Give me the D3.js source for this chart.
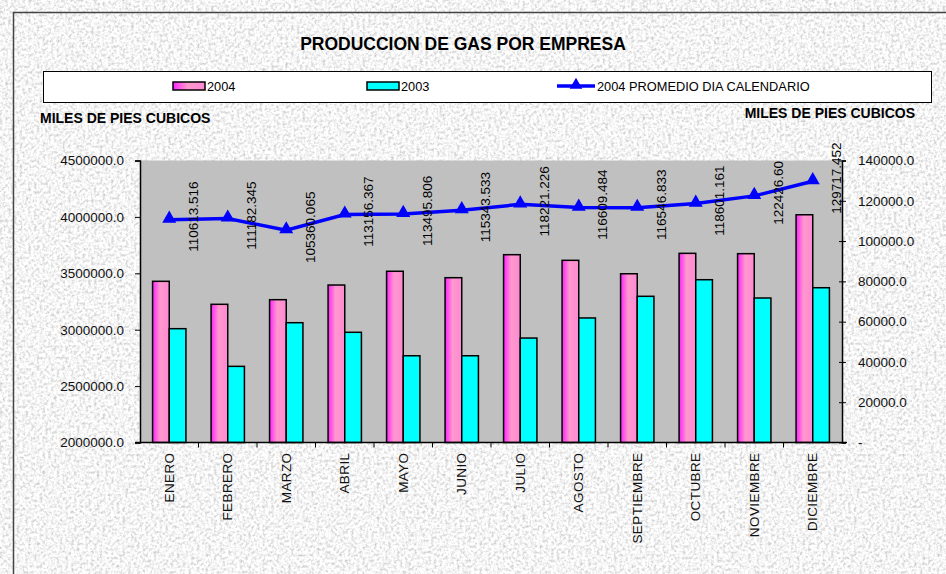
<!DOCTYPE html>
<html>
<head>
<meta charset="utf-8">
<script src="https://cdn.jsdelivr.net/npm/d3@7"></script>
<style>
  body { margin: 0; background: #fff; }
  svg { display: block; font-family: "Liberation Sans", Arial, sans-serif; }
</style>
</head>
<body>
<script>
const width = 946
const height = 574
const margin = { top: 160.5, right: 104, bottom: 131.5, left: 140 }
const innerWidth = width - margin.left - margin.right
const innerHeight = height - margin.top - margin.bottom

const months = ['ENERO', 'FEBRERO', 'MARZO', 'ABRIL', 'MAYO', 'JUNIO', 'JULIO',
  'AGOSTO', 'SEPTIEMBRE', 'OCTUBRE', 'NOVIEMBRE', 'DICIEMBRE']
const prod2004 = [3429000, 3225000, 3266000, 3396000, 3518000, 3461000,
  3665000, 3615000, 3496000, 3677000, 3674000, 4019000]
const prod2003 = [3009000, 2675000, 3062000, 2977000, 2769000, 2769000,
  2926000, 3104000, 3296000, 3443000, 3281000, 3372000]
const promedio = [110613.516, 111182.345, 105360.065, 113156.367, 113495.806, 115343.533,
  118221.226, 116609.484, 116546.833, 118601.161, 122426.60, 129717.452]
const promedioLabels = ['110613.516', '111182.345', '105360.065', '113156.367', '113495.806', '115343.533',
  '118221.226', '116609.484', '116546.833', '118601.161', '122426.60', '129717.452']
const leftTicks = [2000000, 2500000, 3000000, 3500000, 4000000, 4500000]
const rightTicks = [0, 20000, 40000, 60000, 80000, 100000, 120000, 140000]

const svg = d3.select('body')
  .append('svg')
  .attr('width', width)
  .attr('height', height)

const defs = svg.append('defs')

// paper texture
const noise = defs.append('filter').attr('id', 'paper')
  .attr('x', 0).attr('y', 0).attr('width', '100%').attr('height', '100%')
noise.append('feTurbulence')
  .attr('type', 'fractalNoise')
  .attr('baseFrequency', 0.35)
  .attr('numOctaves', 3)
  .attr('seed', 4)
noise.append('feColorMatrix')
  .attr('type', 'matrix')
  .attr('values', '0.9 0 0 0 0.46  0.9 0 0 0 0.46  0.9 0 0 0 0.46  0 0 0 0 1')

const pink = defs.append('linearGradient').attr('id', 'pink')
  .attr('x1', '0%').attr('x2', '100%').attr('y1', '0%').attr('y2', '0%')
pink.append('stop').attr('offset', '0%').attr('stop-color', '#ff22ff')
pink.append('stop').attr('offset', '45%').attr('stop-color', '#ff99cc')
pink.append('stop').attr('offset', '100%').attr('stop-color', '#ff88d4')

svg.append('rect')
  .attr('width', width)
  .attr('height', height)
  .attr('filter', 'url(#paper)')

svg.append('rect')
  .attr('x', 13.5).attr('y', 12.5)
  .attr('width', 1000).attr('height', 1000)
  .attr('fill', 'none')
  .attr('stroke', '#444')
  .attr('stroke-width', 1.5)

svg.append('text')
  .attr('x', 463).attr('y', 50)
  .attr('text-anchor', 'middle')
  .attr('font-size', 17.5)
  .attr('font-weight', 'bold')
  .text('PRODUCCION DE GAS POR EMPRESA')

// legend
const legend = svg.append('g')
legend.append('rect')
  .attr('x', 43.5).attr('y', 71.5)
  .attr('width', 888).attr('height', 31)
  .attr('fill', '#fff')
  .attr('stroke', '#000')
legend.append('rect')
  .attr('x', 173).attr('y', 82).attr('width', 32).attr('height', 8)
  .attr('fill', 'url(#pink)').attr('stroke', '#000').attr('stroke-width', 1.5)
legend.append('text').attr('x', 207).attr('y', 91).attr('font-size', 12.8).text('2004')
legend.append('rect')
  .attr('x', 367).attr('y', 82).attr('width', 32).attr('height', 8)
  .attr('fill', '#00ffff').attr('stroke', '#000').attr('stroke-width', 1.5)
legend.append('text').attr('x', 401).attr('y', 91).attr('font-size', 12.8).text('2003')
legend.append('line')
  .attr('x1', 557).attr('x2', 595).attr('y1', 86).attr('y2', 86)
  .attr('stroke', '#0000ff').attr('stroke-width', 3.5)
legend.append('path')
  .attr('d', d3.symbol(d3.symbolTriangle).size(70)())
  .attr('transform', 'translate(576,85)')
  .attr('fill', '#0000ff')
legend.append('text').attr('x', 597).attr('y', 91).attr('font-size', 12.8)
  .text('2004 PROMEDIO DIA CALENDARIO')

svg.append('text')
  .attr('x', 40).attr('y', 123)
  .attr('font-size', 14).attr('font-weight', 'bold')
  .text('MILES DE PIES CUBICOS')
svg.append('text')
  .attr('x', 915).attr('y', 118)
  .attr('text-anchor', 'end')
  .attr('font-size', 14).attr('font-weight', 'bold')
  .text('MILES DE PIES CUBICOS')

const x = d3.scaleBand()
  .domain(months)
  .range([0, innerWidth])
  .paddingInner(0.43)
  .paddingOuter(0.215)

const xStep = d3.scaleBand().domain(months).range([0, innerWidth])

const xSub = d3.scaleBand()
  .domain(['2004', '2003'])
  .range([0, x.bandwidth()])

const yLeft = d3.scaleLinear()
  .domain([2000000, 4500000])
  .range([innerHeight, 0])

const yRight = d3.scaleLinear()
  .domain([0, 140000])
  .range([innerHeight, 0])

const g = svg.append('g')
  .attr('transform', `translate(${margin.left},${margin.top})`)

g.append('rect')
  .attr('width', innerWidth)
  .attr('height', innerHeight)
  .attr('fill', '#c0c0c0')

const groups = g.selectAll('.month')
  .data(months)
  .join('g')
  .attr('transform', d => `translate(${x(d)},0)`)

groups.append('rect')
  .attr('x', xSub('2004'))
  .attr('y', (d, i) => yLeft(prod2004[i]))
  .attr('width', xSub.bandwidth())
  .attr('height', (d, i) => innerHeight - yLeft(prod2004[i]))
  .attr('fill', 'url(#pink)')
  .attr('stroke', '#000')
  .attr('stroke-width', 1.5)

groups.append('rect')
  .attr('x', xSub('2003'))
  .attr('y', (d, i) => yLeft(prod2003[i]))
  .attr('width', xSub.bandwidth())
  .attr('height', (d, i) => innerHeight - yLeft(prod2003[i]))
  .attr('fill', '#00ffff')
  .attr('stroke', '#000')
  .attr('stroke-width', 1.5)

const cx = d => xStep(d) + xStep.bandwidth() / 2

const line = d3.line()
  .x((d, i) => cx(months[i]))
  .y(d => yRight(d))

g.append('path')
  .attr('d', line(promedio))
  .attr('fill', 'none')
  .attr('stroke', '#0000ff')
  .attr('stroke-width', 3.5)

g.selectAll('.marker')
  .data(promedio)
  .join('path')
  .attr('d', d3.symbol(d3.symbolTriangle).size(85)())
  .attr('transform', (d, i) => `translate(${cx(months[i])},${yRight(d) - 1})`)
  .attr('fill', '#0000ff')

g.selectAll('.dlabel')
  .data(promedio)
  .join('text')
  .attr('transform', (d, i) => `translate(${cx(months[i]) + 24},${yRight(d) - 3}) rotate(-90)`)
  .attr('text-anchor', 'middle')
  .attr('dy', '0.35em')
  .attr('font-size', 13.5)
  .text((d, i) => promedioLabels[i])

// axes
const leftAxis = d3.axisLeft(yLeft)
  .tickValues(leftTicks)
  .tickSize(5)
  .tickPadding(11)
  .tickFormat(d3.format('.1f'))

const rightAxis = d3.axisRight(yRight)
  .tickValues(rightTicks)
  .tickSize(4)
  .tickPadding(12)
  .tickFormat(d => d === 0 ? '-' : d3.format('.1f')(d))

const styleAxis = sel => {
  sel.select('.domain').attr('stroke', '#000').attr('stroke-width', 1.5)
  sel.selectAll('.tick line').attr('stroke', '#000')
  sel.selectAll('.tick text').attr('font-size', 13.5).attr('fill', '#111')
  sel.attr('font-family', null)
}

g.append('g')
  .call(leftAxis)
  .call(styleAxis)

g.append('g')
  .attr('transform', `translate(${innerWidth},0)`)
  .call(rightAxis)
  .call(styleAxis)
  .call(a => a.selectAll('.tick line').attr('x1', -3))

// bottom axis: ticks between categories
const xb = g.append('g').attr('transform', `translate(0,${innerHeight})`)
xb.append('line')
  .attr('x1', -5).attr('x2', innerWidth + 5)
  .attr('stroke', '#000').attr('stroke-width', 1.5)
xb.selectAll('.sep')
  .data(months.slice(1))
  .join('line')
  .attr('x1', d => xStep(d)).attr('x2', d => xStep(d))
  .attr('y1', 0).attr('y2', 5)
  .attr('stroke', '#000')
xb.selectAll('.mlabel')
  .data(months)
  .join('text')
  .attr('transform', d => `translate(${cx(d)},10) rotate(-90)`)
  .attr('text-anchor', 'end')
  .attr('dy', '0.35em')
  .attr('font-size', 13.5)
  .attr('letter-spacing', 0.4)
  .attr('fill', '#111')
  .text(d => d)
</script>
</body>
</html>
